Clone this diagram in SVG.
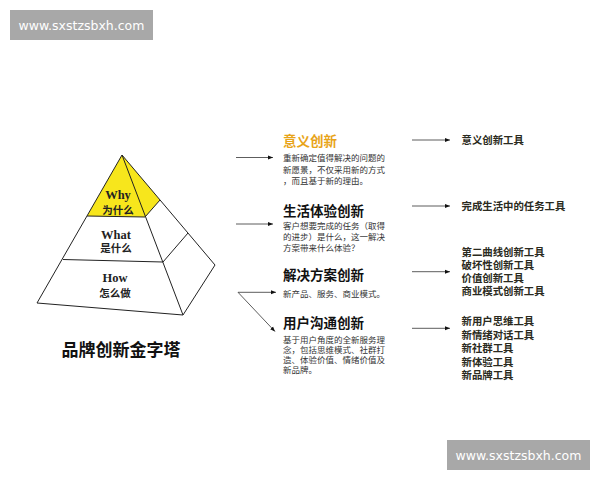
<svg xmlns="http://www.w3.org/2000/svg" width="600" height="480" viewBox="0 0 600 480">
<defs>
<marker id="ah" viewBox="0 0 10 10" refX="10" refY="5" markerWidth="5" markerHeight="5" orient="auto" markerUnits="userSpaceOnUse">
<path d="M0,1 L10,5 L0,9 Z" fill="#111"/>
</marker>
<style>
.wm{fill:#a8a8a8}
.wmt{font-family:"DejaVu Sans","Liberation Sans",sans-serif;font-size:12.5px;fill:#fff;text-anchor:middle}
.edge{stroke:#333;stroke-width:0.8;fill:none;marker-end:url(#ah)}
.pyr{stroke:#222;stroke-width:1;fill:none;stroke-linejoin:round}
.en{font-family:"Liberation Serif","DejaVu Serif",serif;font-weight:bold;font-size:12.5px;fill:#222;text-anchor:middle}
.cn{font-family:"Noto Sans CJK SC",sans-serif;font-weight:bold;font-size:10.5px;fill:#222;text-anchor:middle}
.head{font-family:"Noto Sans CJK SC",sans-serif;font-weight:bold;font-size:13.5px;fill:#111}
.body{font-family:"Noto Sans CJK SC",sans-serif;font-size:8.5px;fill:#333}
.tool{font-family:"Noto Sans CJK SC",sans-serif;font-weight:bold;font-size:10.4px;fill:#2a2a20}
</style>
</defs>
<rect width="600" height="480" fill="#fff"/>
<g id="wm-top"><rect class="wm" x="10" y="10" width="143" height="30"/><text class="wmt" x="81.5" y="29.5">www.sxstzsbxh.com</text></g>
<g id="wm-bottom"><rect class="wm" x="447" y="440" width="143" height="30"/><text class="wmt" x="518.5" y="459.5">www.sxstzsbxh.com</text></g>

<g id="pyramid">
<path d="M122,155 L87,216 L145,217 L160,200 Z" fill="#f7e61c"/>
<path class="pyr" d="M122,155 L37,303 L183,315 L215,265 Z"/>
<path class="pyr" d="M122,155 L183,315"/>
<path class="pyr" d="M87,216 L145,217 L160,200"/>
<path class="pyr" d="M63,259.5 L163,262 L188,233"/>
<text class="en" x="118" y="199">Why</text>
<text class="cn" x="118" y="213.5">为什么</text>
<text class="en" x="116" y="238.5">What</text>
<text class="cn" x="116" y="251.5">是什么</text>
<text class="en" x="115" y="282">How</text>
<text class="cn" x="115" y="297">怎么做</text>
</g>
<g id="title"><text x="121" y="356" style="font-family:'Noto Sans CJK SC',sans-serif;font-weight:bold;font-size:17px;fill:#111;text-anchor:middle">品牌创新金字塔</text></g>

<g id="n1">
<text class="head" x="283" y="146" style="fill:#e8a418">意义创新</text>
<text class="body" x="283" y="161">重新确定值得解决的问题的</text>
<text class="body" x="283" y="172.5">新愿景，不仅采用新的方式</text>
<text class="body" x="283" y="184">，而且基于新的理由。</text>
</g>
<g id="n2">
<text class="head" x="283" y="215.5">生活体验创新</text>
<text class="body" x="283" y="229">客户想要完成的任务（取得</text>
<text class="body" x="283" y="240">的进步）是什么，这一解决</text>
<text class="body" x="283" y="251">方案带来什么体验？</text>
</g>
<g id="n3">
<text class="head" x="283" y="280">解决方案创新</text>
<text class="body" x="283" y="296.5">新产品、服务、商业模式。</text>
</g>
<g id="n4">
<text class="head" x="283" y="327.5">用户沟通创新</text>
<text class="body" x="283" y="342.5">基于用户角度的全新服务理</text>
<text class="body" x="283" y="352.5">念，包括思维模式、社群打</text>
<text class="body" x="283" y="362.5">造、体验价值、情绪价值及</text>
<text class="body" x="283" y="372.5">新品牌。</text>
</g>
<g id="t1"><text class="tool" x="461.5" y="143.5">意义创新工具</text></g>
<g id="t2"><text class="tool" x="461.5" y="209.5">完成生活中的任务工具</text></g>
<g id="t3">
<text class="tool" x="461.5" y="255.5">第二曲线创新工具</text>
<text class="tool" x="461.5" y="268.5">破坏性创新工具</text>
<text class="tool" x="461.5" y="282">价值创新工具</text>
<text class="tool" x="461.5" y="295">商业模式创新工具</text>
</g>
<g id="t4">
<text class="tool" x="461.5" y="324.5">新用户思维工具</text>
<text class="tool" x="461.5" y="338.5">新情绪对话工具</text>
<text class="tool" x="461.5" y="352">新社群工具</text>
<text class="tool" x="461.5" y="365.5">新体验工具</text>
<text class="tool" x="461.5" y="379">新品牌工具</text>
</g>

<g id="connectors">
<path class="edge" d="M236,157.5 L273,157.5"/>
<path class="edge" d="M236,224 L273,224"/>
<path class="edge" d="M238,292.3 L276,292.3"/>
<path class="edge" d="M238,292.3 L275,331.5"/>
<path class="edge" d="M412,140 L450,140"/>
<path class="edge" d="M412,206 L450,206"/>
<path class="edge" d="M412,271.7 L450,271.7"/>
<path class="edge" d="M412,328.3 L450,328.3"/>
</g>
</svg>
